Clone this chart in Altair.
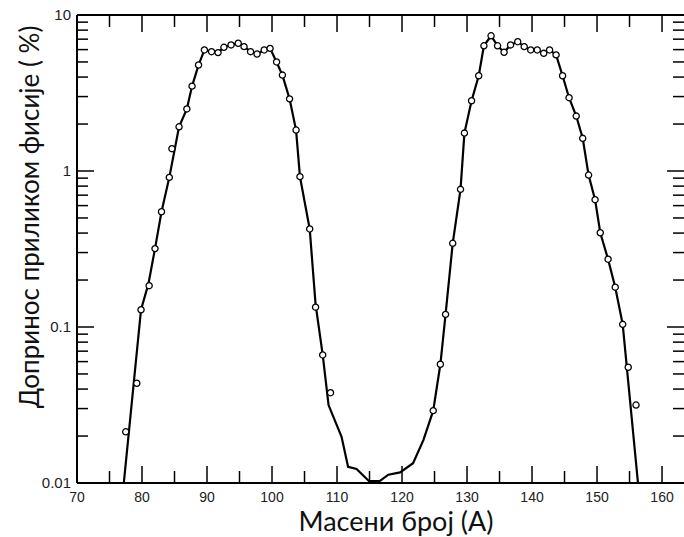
import altair as alt
import pandas as pd

# Measured points (mass number A, fission yield %)
pt_mass = [77.5, 79.2, 79.85, 81.1, 82.0, 83.0, 84.2, 84.6, 85.7, 86.9, 87.7, 88.7,
           89.6, 90.7, 91.7, 92.6, 93.7, 94.8, 95.7, 96.7, 97.7, 98.8, 99.7,
           100.7, 101.6, 102.7, 103.7, 104.3, 105.8, 106.7, 107.8, 109.0,
           124.8, 125.9, 126.7, 127.8, 129.0, 129.6, 130.7, 131.8,
           132.6, 133.7, 134.7, 135.7, 136.7, 137.8, 138.8, 139.8, 140.8, 141.8, 142.7, 143.7,
           144.7, 145.7, 146.8, 147.8, 148.7, 149.7, 150.5, 151.7, 152.8, 153.95, 154.8, 156.0]
pt_yield = [0.0213, 0.0436, 0.129, 0.184, 0.318, 0.548, 0.91, 1.39, 1.92, 2.5, 3.5, 4.78,
            5.97, 5.82, 5.74, 6.21, 6.43, 6.59, 6.27, 5.82, 5.62, 5.97, 6.11,
            5.0, 4.12, 2.9, 1.83, 0.92, 0.425, 0.134, 0.0662, 0.0379,
            0.0291, 0.0577, 0.1205, 0.344, 0.763, 1.75, 2.82, 4.08,
            6.35, 7.36, 6.35, 5.77, 6.43, 6.74, 6.27, 5.97, 5.97, 5.68, 5.97, 5.55,
            4.08, 2.95, 2.25, 1.62, 0.942, 0.655, 0.402, 0.272, 0.18, 0.104, 0.0552, 0.0316]

# Smooth curve drawn through the data
line_mass = [77.2, 79.85, 81.0, 82.0, 83.0, 84.2, 85.7, 86.9, 87.7, 88.7,
             89.6, 90.7, 91.7, 92.6, 93.7, 94.8, 95.7, 96.7, 97.7, 98.8, 99.7,
             100.7, 101.6, 102.7, 103.7, 104.3, 105.8, 106.7, 107.8, 108.7,
             110.7, 111.7, 113.0, 114.9, 116.6, 117.9, 119.7, 121.7, 123.3,
             124.8, 125.9, 126.7, 127.8, 129.0, 129.6, 130.7, 131.8,
             132.6, 133.7, 134.7, 135.7, 136.7, 137.8, 138.8, 139.8, 140.8, 141.8, 142.7, 143.7,
             144.7, 145.7, 146.8, 147.8, 148.7, 149.7, 150.5, 151.7, 152.8, 153.95, 156.3]
line_yield = [0.01, 0.129, 0.19, 0.318, 0.548, 0.91, 1.92, 2.5, 3.5, 4.78,
              5.97, 5.82, 5.74, 6.21, 6.43, 6.59, 6.27, 5.82, 5.62, 5.97, 6.11,
              5.0, 4.12, 2.9, 1.83, 0.92, 0.425, 0.14, 0.0662, 0.0316,
              0.0198, 0.0127, 0.0123, 0.0103, 0.0103, 0.0113, 0.0117, 0.0134, 0.0189,
              0.0291, 0.0577, 0.1205, 0.344, 0.763, 1.75, 2.82, 4.08,
              6.35, 7.36, 6.35, 5.77, 6.43, 6.74, 6.27, 5.97, 5.97, 5.68, 5.97, 5.55,
              4.08, 2.95, 2.25, 1.62, 0.942, 0.655, 0.402, 0.272, 0.18, 0.104, 0.01]

x_major = [70, 80, 90, 100, 110, 120, 130, 140, 150, 160]
x_minor = [75, 85, 95, 105, 115, 125, 135, 145, 155]
y_major = [0.01, 0.1, 1, 10]
y_minor = [0.02, 0.03, 0.04, 0.05, 0.06, 0.07, 0.08, 0.09,
           0.2, 0.3, 0.4, 0.5, 0.6, 0.7, 0.8, 0.9,
           2, 3, 4, 5, 6, 7, 8, 9]

x_title = ["Масени број (A)"]
y_title = ["Допринос приликом фисије ( %)"]

W, H = 607, 468
x_scale = alt.Scale(domain=[70, 163.38], nice=False, zero=False)
y_scale = alt.Scale(type="log", domain=[0.01, 10], nice=False)

pts = pd.DataFrame({"A": pt_mass, "Y": pt_yield})
crv = pd.DataFrame({"A": line_mass, "Y": line_yield})
ymaj = pd.DataFrame({"v": y_major})
ymin = pd.DataFrame({"v": y_minor})
xmaj = pd.DataFrame({"v": x_major})
xmin = pd.DataFrame({"v": x_minor})

line = alt.Chart(crv).mark_line(color="black", strokeWidth=2.2, clip=True).encode(
    x=alt.X("A:Q", scale=x_scale, axis=None),
    y=alt.Y("Y:Q", scale=y_scale, axis=None),
)
points = alt.Chart(pts).mark_point(shape="circle", size=38, fill="white", fillOpacity=1,
                                   stroke="black", strokeWidth=1.3, opacity=1).encode(
    x=alt.X("A:Q", scale=x_scale, axis=None),
    y=alt.Y("Y:Q", scale=y_scale, axis=None),
)


def ytick(df, size, left):
    a, b = (0, size) if left else (W - size, W)
    return alt.Chart(df).mark_rule(strokeWidth=1.5, color="black").encode(
        x=alt.value(a), x2=alt.value(b),
        y=alt.Y("v:Q", scale=y_scale, axis=None),
    )


def xtick(df, size, bottom):
    a, b = (H - size, H) if bottom else (0, size)
    return alt.Chart(df).mark_rule(strokeWidth=1.5, color="black").encode(
        y=alt.value(a), y2=alt.value(b),
        x=alt.X("v:Q", scale=x_scale, axis=None),
    )


# frame lines (left, bottom, top)
left_line = alt.Chart(xmaj).mark_rule(color="black", strokeWidth=1.8).encode(
    x=alt.value(0), y=alt.value(0), y2=alt.value(H))
bottom_line = alt.Chart(xmaj).mark_rule(color="black", strokeWidth=1.8).encode(
    x=alt.value(0), x2=alt.value(W), y=alt.value(H))
top_line = alt.Chart(xmaj).mark_rule(color="black", strokeWidth=1.8).encode(
    x=alt.value(0), x2=alt.value(W), y=alt.value(0))

# tick labels
y_labels = alt.Chart(ymaj).mark_text(align="right", baseline="middle", dx=-6,
                                     font="Liberation Sans", fontSize=15,
                                     color="#222").encode(
    x=alt.value(0),
    y=alt.Y("v:Q", scale=y_scale, axis=None),
    text=alt.Text("v:Q", format="~g"),
)
x_labels = alt.Chart(xmaj).mark_text(align="center", baseline="top", dy=8,
                                     font="Liberation Sans", fontSize=14,
                                     color="#222").encode(
    x=alt.X("v:Q", scale=x_scale, axis=None),
    y=alt.value(H),
    text=alt.Text("v:Q", format="d"),
)

# axis titles
x_tt = alt.Chart(pd.DataFrame({"t": x_title})).mark_text(
    align="center", baseline="middle", font="Lato", fontSize=27, color="#111").encode(
    x=alt.value(319), y=alt.value(H + 40), text="t:N")
y_tt = alt.Chart(pd.DataFrame({"t": y_title})).mark_text(
    align="center", baseline="middle", angle=270, font="Lato", fontSize=26,
    color="#111").encode(
    x=alt.value(-46), y=alt.value(202), text="t:N")

chart = alt.layer(
    left_line, bottom_line, top_line,
    ytick(ymaj, 17, True), ytick(ymin, 11, True),
    ytick(ymaj, 17, False), ytick(ymin, 11, False),
    xtick(xmaj, 17, True), xtick(xmin, 12, True),
    xtick(xmaj, 17, False), xtick(xmin, 12, False),
    line, points,
    y_labels, x_labels, x_tt, y_tt,
).properties(
    width=W, height=H,
    padding={"left": 77, "top": 15, "right": 0, "bottom": 54},
    autosize=alt.AutoSizeParams(type="none"),
    background="white",
).configure_view(stroke=None)

chart.save("out.html", embed_options={"renderer": "svg", "actions": False})
